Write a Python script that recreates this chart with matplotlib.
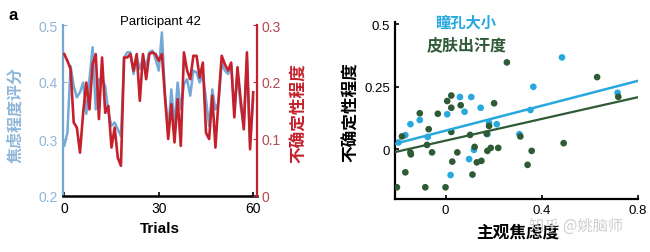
import matplotlib
matplotlib.use("Agg")
import matplotlib.pyplot as plt
import numpy as np

plt.rcParams["font.family"] = ["Liberation Sans", "Noto Sans CJK SC", "DejaVu Sans"]
CJK = ["Noto Sans CJK SC", "DejaVu Sans"]

# ---- panel a: one participant, trial by trial ----
trials = list(range(61))
anxiety = [0.288, 0.311, 0.428, 0.393, 0.373, 0.382, 0.399, 0.344, 0.405, 0.461,
           0.352, 0.405, 0.405, 0.393, 0.346, 0.323, 0.329, 0.317, 0.305, 0.443,
           0.452, 0.452, 0.414, 0.443, 0.423, 0.443, 0.428, 0.452, 0.455, 0.440,
           0.420, 0.487, 0.376, 0.317, 0.387, 0.323, 0.399, 0.352, 0.396, 0.405,
           0.376, 0.420, 0.417, 0.399, 0.414, 0.370, 0.323, 0.387, 0.352, 0.364,
           0.434, 0.420, 0.414, 0.428, 0.352, 0.414, 0.358, 0.323, 0.440, 0.294,
           0.370]
uncertainty = [0.249, 0.237, 0.223, 0.129, 0.120, 0.076, 0.146, 0.199, 0.152, 0.231,
               0.249, 0.135, 0.243, 0.146, 0.158, 0.085, 0.120, 0.067, 0.053, 0.243,
               0.243, 0.249, 0.220, 0.249, 0.167, 0.249, 0.205, 0.249, 0.252, 0.249,
               0.237, 0.249, 0.173, 0.100, 0.161, 0.094, 0.170, 0.088, 0.252, 0.220,
               0.205, 0.246, 0.246, 0.208, 0.234, 0.111, 0.100, 0.176, 0.085, 0.170,
               0.246, 0.231, 0.220, 0.234, 0.138, 0.226, 0.170, 0.117, 0.252, 0.082,
               0.182]

# ---- panel b: across participants ----
pupil_x = [-0.195, -0.167, -0.146, -0.107, -0.074, 0.007, 0.060, 0.079, 0.107, 0.146,
           0.181, 0.174, 0.213, 0.098, 0.021, 0.118, 0.307, 0.353, 0.365, 0.484, 0.715]
pupil_y = [0.027, 0.056, 0.100, 0.117, 0.049, 0.140, 0.209, 0.150, 0.209, 0.166,
           0.106, 0.060, 0.100, -0.040, -0.104, -0.003, 0.060, 0.157, 0.250, 0.368, 0.226]
sweat_x = [-0.202, -0.181, -0.167, -0.146, -0.144, -0.107, -0.084, -0.077, -0.070, -0.056,
           -0.032, 0.000, 0.007, 0.024, 0.024, 0.024, 0.028, 0.049, 0.063, 0.102,
           0.112, 0.121, 0.130, 0.149, 0.171, 0.174, 0.181, 0.188, 0.202, 0.219,
           0.255, 0.311, 0.341, 0.358, 0.491, 0.630, 0.718]
sweat_y = [-0.153, 0.051, -0.093, -0.013, -0.021, 0.144, -0.153, 0.017, 0.080, -0.013,
           0.142, -0.153, 0.193, 0.215, 0.166, 0.069, -0.050, -0.013, 0.176, 0.057,
           -0.102, 0.009, -0.053, -0.047, 0.062, -0.007, 0.093, 0.005, 0.184, 0.005,
           0.348, 0.051, -0.063, -0.007, 0.024, 0.289, 0.210]
# fitted lines (slope, intercept)
pupil_fit = [0.250, 0.074]
sweat_fit = [0.218, 0.034]

BLUE_LINE = "#72a9d6"
BLUE_TXT = "#8fb6d9"
RED = "#c4212c"
CYAN = "#27a8df"
GREEN = "#2e5b36"

W, H = 650, 253
fig = plt.figure(figsize=(6.5, 2.53), dpi=100)
fig.patch.set_facecolor("white")


def box(l, t, r, b):
    return [l / W, 1 - b / H, (r - l) / W, (b - t) / H]


# ---------------- left panel ----------------
ax = fig.add_axes(box(63, 26, 257, 197))
ax.plot(trials, anxiety, color=BLUE_LINE, lw=1.8, zorder=2)
ax.set_xlim(-0.4, 61.2)
ax.set_ylim(0.2, 0.5)
ax.set_xticks([0, 30, 60])
ax.set_yticks([0.2, 0.3, 0.4, 0.5])
ax.set_yticklabels(["0.2", "0.3", "0.4", "0.5"])
ax.tick_params(axis="y", colors=BLUE_TXT, labelsize=10, direction="in", length=3)
ax.tick_params(axis="x", colors="black", labelsize=10, direction="in", length=3, width=1.2)
ax.spines["top"].set_visible(False)
ax.spines["right"].set_visible(False)
ax.spines["left"].set_color(BLUE_LINE)
ax.spines["left"].set_linewidth(1.6)
ax.spines["bottom"].set_linewidth(1.8)
ax.spines["bottom"].set_zorder(5)

ax2 = ax.twinx()
ax2.plot(trials, uncertainty, color=RED, lw=1.9)
ax2.set_ylim(0, 0.3)
ax2.set_yticks([0, 0.1, 0.2, 0.3])
ax2.set_yticklabels(["0", "0.1", "0.2", "0.3"])
ax2.tick_params(axis="y", colors=RED, labelsize=10, direction="in", length=3)
for s in ["top", "left", "bottom"]:
    ax2.spines[s].set_visible(False)
ax2.spines["right"].set_color(RED)
ax2.spines["right"].set_linewidth(1.6)
for lbl in ax2.get_yticklabels():
    lbl.set_color("#b5484e")

fig.text(13 / W, 1 - 15 / H, "a", fontsize=12, fontweight="bold", ha="center", va="center")
fig.text(160 / W, 1 - 22 / H, "Participant 42", fontsize=9.5, ha="center", va="center")
fig.text(160 / W, 1 - 229 / H, "Trials", fontsize=11, fontweight="bold", ha="center", va="center")
fig.text(15 / W, 1 - 115 / H, "焦虑程度评分", family=CJK, fontsize=11.5, fontweight="bold",
         color=BLUE_TXT, rotation=90, ha="center", va="center")
fig.text(299 / W, 1 - 113 / H, "不确定性程度", family=CJK, fontsize=12, fontweight="bold",
         color=RED, rotation=90, ha="center", va="center")

# ---------------- right panel ----------------
bx = fig.add_axes(box(395, 23, 638, 200))
bx.scatter(sweat_x, sweat_y, s=23, color=GREEN, edgecolors="none", zorder=3)
bx.scatter(pupil_x, pupil_y, s=23, color=CYAN, edgecolors="none", zorder=2)
xs = np.array([-0.21, 0.8])
bx.plot(xs, pupil_fit[0] * xs + pupil_fit[1], color=CYAN, lw=1.8, zorder=4)
bx.plot(xs, sweat_fit[0] * xs + sweat_fit[1], color=GREEN, lw=1.6, zorder=4)
bx.set_xlim(-0.21, 0.8)
bx.set_ylim(-0.2, 0.51)
bx.set_xticks([0, 0.4, 0.8])
bx.set_xticklabels(["0", "0.4", "0.8"])
bx.set_yticks([0, 0.25, 0.5])
bx.set_yticklabels(["0", "0.25", "0.5"])
bx.tick_params(labelsize=9.5, direction="in", length=3, width=1.2)
bx.spines["top"].set_visible(False)
bx.spines["right"].set_visible(False)
bx.spines["left"].set_linewidth(1.6)
bx.spines["bottom"].set_linewidth(1.6)

fig.text(351 / W, 1 - 112 / H, "不确定性程度", family=CJK, fontsize=12, fontweight="bold",
         rotation=90, ha="center", va="center")
fig.text(518 / W, 1 - 233 / H, "主观焦虑度", family=CJK, fontsize=12, fontweight="bold",
         ha="center", va="center")
fig.text(435 / W, 1 - 23 / H, "瞳孔大小", family=CJK, fontsize=11, fontweight="bold",
         color=CYAN, ha="left", va="center")
fig.text(427 / W, 1 - 45 / H, "皮肤出汗度", family=CJK, fontsize=11.5, fontweight="bold",
         color=GREEN, ha="left", va="center")
fig.text(576 / W, 1 - 226 / H, "知乎 @姚脑师", family=CJK, fontsize=11,
         color="#cfcfcf", ha="center", va="center")

fig.savefig("out.png", dpi=100, facecolor="white")
